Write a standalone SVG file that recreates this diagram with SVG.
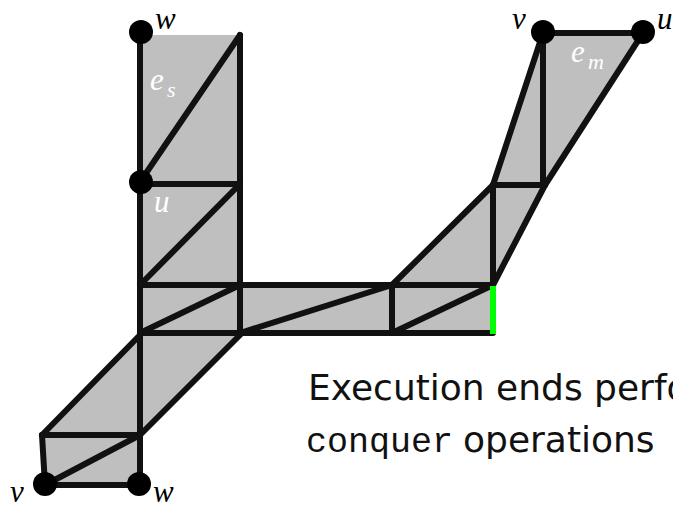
<svg xmlns="http://www.w3.org/2000/svg" width="673" height="508" viewBox="0 0 673 508">
<style>
.e{stroke:#111;stroke-width:6;stroke-linecap:round;fill:none}
.n{fill:#000}
.m{font-family:"Liberation Serif",serif;font-style:italic;font-size:31px}
.s{font-family:"Liberation Serif",serif;font-style:italic;font-size:22px}
.w{fill:#fff}
.t{font-family:"DejaVu Sans","Liberation Sans",sans-serif;font-size:36px;fill:#111}
.c{font-family:"Liberation Mono",monospace;font-size:35px;fill:#111}
</style>
<rect width="673" height="508" fill="#fff"/>
<g id="region">
<polygon points="140,35 240,35 240,285 392,285 493,185 543,33 643,33 545,185 493,285 493,333 240,333 140,435 140,485 45,485 42,435 140,335" fill="#bfbfbf"/>
</g>
<g id="connectors">
<line class="e" x1="140" y1="33" x2="140" y2="485"/>
<line class="e" x1="240" y1="35" x2="240" y2="333"/>
<line class="e" x1="140" y1="182" x2="240" y2="35"/>
<line class="e" x1="140" y1="184" x2="240" y2="184"/>
<line class="e" x1="240" y1="184" x2="140" y2="285"/>
<line class="e" x1="140" y1="285" x2="493" y2="285"/>
<line class="e" x1="240" y1="285" x2="140" y2="333"/>
<line class="e" x1="140" y1="333" x2="493" y2="333"/>
<line class="e" x1="240" y1="333" x2="392" y2="285"/>
<line class="e" x1="392" y1="285" x2="392" y2="333"/>
<line class="e" x1="392" y1="333" x2="493" y2="285"/>
<line class="e" x1="392" y1="285" x2="493" y2="185"/>
<line class="e" x1="493" y1="185" x2="493" y2="285"/>
<line class="e" x1="493" y1="185" x2="545" y2="185"/>
<line class="e" x1="493" y1="285" x2="545" y2="185"/>
<line class="e" x1="493" y1="185" x2="543" y2="33"/>
<line class="e" x1="543" y1="33" x2="543" y2="185"/>
<line class="e" x1="543" y1="33" x2="643" y2="33"/>
<line class="e" x1="643" y1="33" x2="545" y2="185"/>
<line class="e" x1="140" y1="335" x2="42" y2="435"/>
<line class="e" x1="240" y1="335" x2="140" y2="435"/>
<line class="e" x1="42" y1="435" x2="140" y2="435"/>
<line class="e" x1="42" y1="435" x2="45" y2="485"/>
<line class="e" x1="45" y1="485" x2="140" y2="435"/>
<line class="e" x1="45" y1="485" x2="140" y2="485"/>
<line x1="493" y1="286" x2="493" y2="334" stroke="#00ff00" stroke-width="6"/>
</g>
<g id="node-w-top"><circle class="n" cx="141" cy="32" r="12"/><text class="m" x="155" y="29">w</text></g>
<g id="node-u-left"><circle class="n" cx="141" cy="182" r="12"/><text class="m w" x="154" y="212">u</text></g>
<g id="node-v-top"><circle class="n" cx="543" cy="32" r="12"/><text class="m" x="512" y="29">v</text></g>
<g id="node-u-top"><circle class="n" cx="643" cy="32" r="12"/><text class="m" x="657" y="29">u</text></g>
<g id="node-v-bottom"><circle class="n" cx="45" cy="484" r="12"/><text class="m" x="10" y="502">v</text></g>
<g id="node-w-bottom"><circle class="n" cx="139" cy="484" r="12"/><text class="m" x="153" y="502">w</text></g>
<g id="label-es"><text class="m w" x="150" y="90">e</text><text class="s w" x="167" y="97">s</text></g>
<g id="label-em"><text class="m w" x="571" y="62">e</text><text class="s w" x="588" y="69">m</text></g>
<g id="caption">
<text class="t" x="308" y="400">Execution ends perfo</text>
<text class="c" x="306" y="452">conquer</text>
<text class="t" x="463" y="452">operations</text>
</g>
</svg>
